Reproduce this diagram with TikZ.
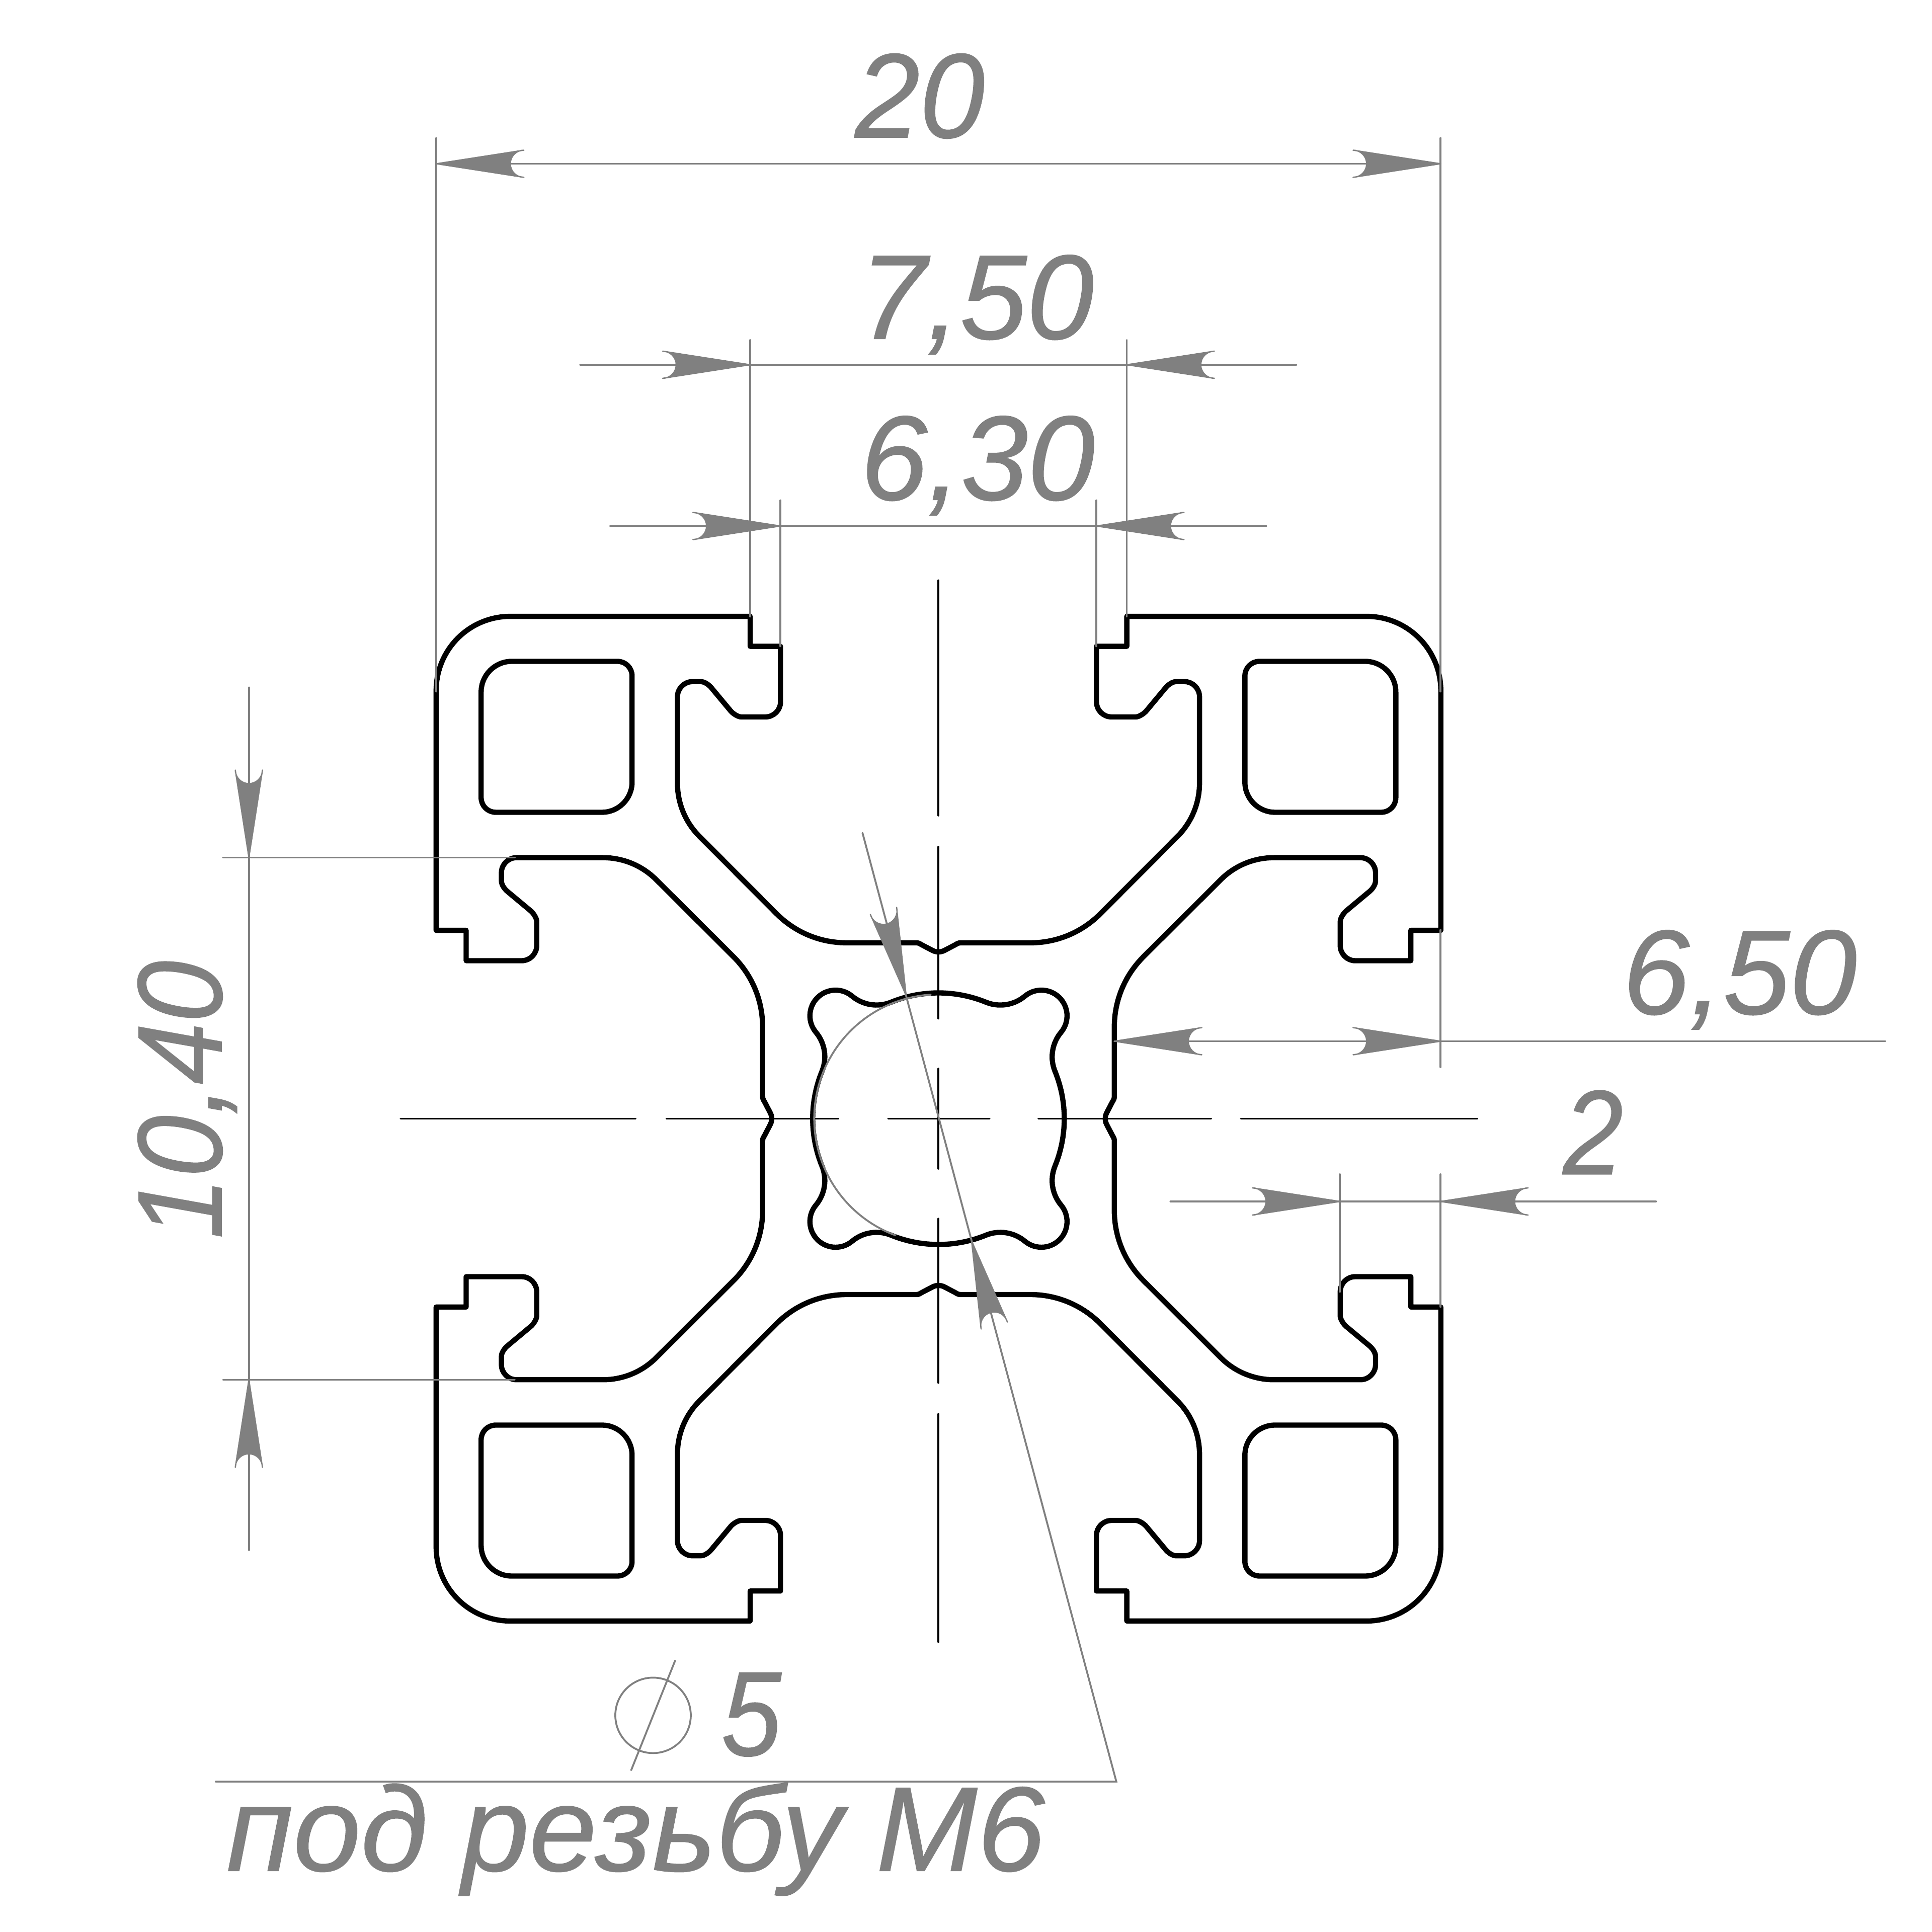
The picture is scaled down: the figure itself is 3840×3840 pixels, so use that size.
\documentclass[tikz,border=0pt]{standalone}
\usepackage{graphicx}
\usepackage{fontspec}
\setmainfont{Liberation Sans}[ItalicFeatures={FakeBold=0.6}]
\definecolor{dimgray}{HTML}{808080}
\tikzset{
  prof/.style={black,line width=2.95pt,line join=round,line cap=round},
  axisline/.style={black,line width=1.05pt,line cap=round},
  dimline/.style={dimgray,line width=1.05pt,line cap=round},
  dimtext/.style={text=dimgray,inner sep=0pt,font=\fontsize{68}{72}\selectfont\itshape}
}
\newcommand{\ahead}[3]{\filldraw[dimgray,line width=0.7pt,line join=round,shift={(#1,#2)},rotate=#3] (0,0) -- (174,27) arc[start angle=90,end angle=270,radius=27] -- cycle;}
\def\halfouter{(0,331.5) .. controls (6,331.5) and (9,333) .. (13,335) -- (34,346) .. controls (38,348.5) and (40,349.5) .. (44,349.5) -- (182,349.5) .. controls (235,349.5) and (284.5,370) .. (322,407.5) -- (475,561) .. controls (503.1,589.1) and (518.8,627) .. (518.8,666.8) -- (518.8,838.7) .. controls (518.8,855.2) and (505.3,868.7) .. (488.8,868.7) -- (472.5,868.7) .. controls (465,868.7) and (456,862.3) .. (451,856) -- (413,810.4) .. controls (408,804.5) and (398,798.5) .. (392,798.5) -- (344,798.5) .. controls (327.5,798.5) and (314,812) .. (314,828) -- (314,938.8) -- (374.3,938.8) -- (374.3,998.4) -- (851,998.4) arc[start angle=90,end angle=45,radius=147.4]}
\def\pocket{(638,909) -- (848,909) arc[start angle=90,end angle=0,radius=61] -- (909,638) arc[start angle=0,end angle=-90,radius=29] -- (669,609) arc[start angle=270,end angle=180,radius=60] -- (609,880) arc[start angle=180,end angle=90,radius=29] -- cycle}
\def\hole{(0,250) arc[start angle=90,end angle=67.84,radius=250] arc[start angle=247.84,end angle=309.9,radius=76.1] arc[start angle=129.9,end angle=-39.9,radius=51] arc[start angle=140.1,end angle=202.16,radius=76.1] arc[start angle=22.16,end angle=0,radius=250]}
\begin{document}
\begin{tikzpicture}[x=0.01cm,y=0.01cm]
\useasboundingbox[fill=white] (-1865.3,-1616.5) rectangle (1974.7,2223.5);
% profile
\foreach \sx in {1,-1}{\foreach \sy in {1,-1}{
  \begin{scope}[xscale=\sx,yscale=\sy]
    \draw[prof] \halfouter;
    \draw[prof,cm={0,1,1,0,(0,0)}] \halfouter;
    \draw[prof] \pocket;
    \draw[prof] \hole;
  \end{scope}
}}
% axes
\foreach \a/\b in {1070/602.5,540.5/199,99.5/-99.5,-198.7/-525,-587/-1040}{\draw[axisline] (0,\a) -- (0,\b);}
\foreach \a/\b in {-1069/-602,-540.6/-199,-100/101.5,198.5/542,601/1071}{\draw[axisline] (\a,0) -- (\b,0);}
% dimension 20
\draw[dimline] (-998,1949) -- (-998,849);
\draw[dimline] (998,1949) -- (998,849);
\draw[dimline] (-998,1898) -- (998,1898);
\ahead{-998}{1898}{0}\ahead{998}{1898}{180}
\node[dimtext] (d20) at (-37,2032.5) {\scalebox{.97}[1]{20}};
% dimension 7,50
\draw[dimline] (-374.3,1547.5) -- (-374.3,998);
\draw[dimline] (374.3,1547.5) -- (374.3,998);
\draw[dimline] (-712,1498.5) -- (711,1498.5);
\ahead{-374.3}{1498.5}{180}\ahead{374.3}{1498.5}{0}
\node[dimtext,anchor=base] (d750) at (76,1550) {7,50};
% dimension 6,30
\draw[dimline] (-314,1229) -- (-314,939);
\draw[dimline] (314,1229) -- (314,939);
\draw[dimline] (-653,1178) -- (652,1178);
\ahead{-314}{1178}{180}\ahead{314}{1178}{0}
\node[dimtext,anchor=base] (d630) at (78,1230) {6,30};
% dimension 6,50
\draw[dimline] (998,375) -- (998,102.5);
\draw[dimline] (349.5,154) -- (1882,154);
\ahead{349.5}{154}{0}\ahead{998}{154}{180}
\node[dimtext,anchor=base] (d650) at (1592.7,208) {6,50};
% dimension 2
\draw[dimline] (798,-110.5) -- (798,-344);
\draw[dimline] (998,-110.5) -- (998,-374);
\draw[dimline] (461,-164.5) -- (1426,-164.5);
\ahead{798}{-164.5}{180}\ahead{998}{-164.5}{0}
\node[dimtext] (d2) at (1301,-27) {\scalebox{.9}[1]{2}};
% dimension 10,40
\draw[dimline] (-1422,519) -- (-842,519);
\draw[dimline] (-1422,-519) -- (-842,-519);
\draw[dimline] (-1370.6,857) -- (-1370.6,-857.5);
\ahead{-1370.6}{519}{90}\ahead{-1370.6}{-519}{-90}
\node[dimtext,rotate=90,anchor=base] (d1040) at (-1425,37.5) {\scalebox{.925}[1]{10,40}};
% diameter arc and leader
\draw[dimline] (0,0) ++(93.6:247) arc[start angle=93.6,end angle=249.7,radius=247];
\draw[dimline] (-151,568) -- (353.5,-1317.6) -- (-1436.7,-1317.6);
\ahead{-64.3}{245}{105}\ahead{65.8}{-243}{-75}
% diameter symbol
\draw[dimline] (-567.3,-1185.9) circle[radius=75];
\draw[dimline] (-523.5,-1077.3) -- (-610.8,-1294.9);
\node[dimtext] (d5) at (-372,-1184.5) {\scalebox{.9}[1]{5}};
\node[dimtext,anchor=base west] (note) at (-1416,-1494.9) {\scalebox{1.01}[1]{под резьбу М6}};
\end{tikzpicture}
\end{document}
